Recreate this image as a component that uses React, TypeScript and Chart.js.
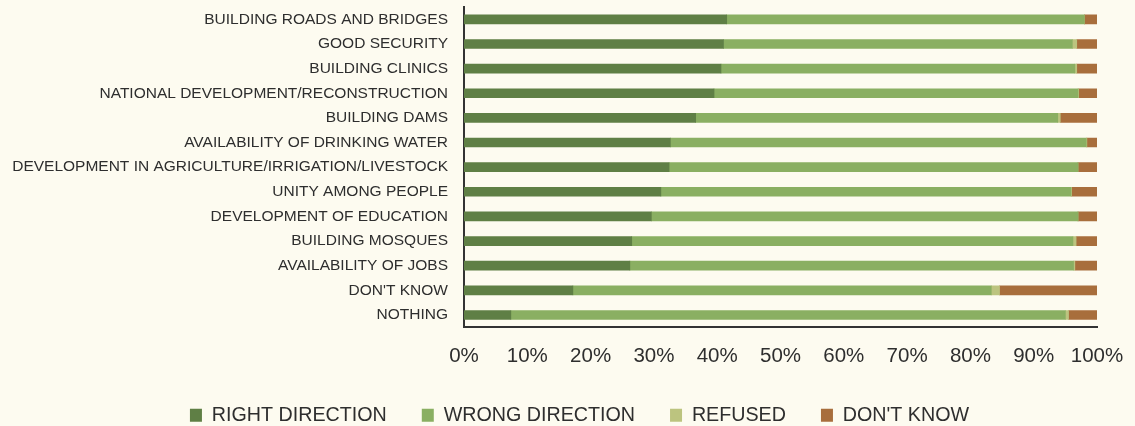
import React, { useEffect, useRef } from "react";
import { Chart, registerables } from "chart.js";

Chart.register(...registerables);

const categories = [
  "BUILDING ROADS AND BRIDGES",
  "GOOD SECURITY",
  "BUILDING CLINICS",
  "NATIONAL DEVELOPMENT/RECONSTRUCTION",
  "BUILDING DAMS",
  "AVAILABILITY OF DRINKING WATER",
  "DEVELOPMENT IN AGRICULTURE/IRRIGATION/LIVESTOCK",
  "UNITY AMONG PEOPLE",
  "DEVELOPMENT OF EDUCATION",
  "BUILDING MOSQUES",
  "AVAILABILITY OF JOBS",
  "DON'T KNOW",
  "NOTHING",
];

const rightDirection = [41.5, 41.0, 40.6, 39.5, 36.6, 32.6, 32.4, 31.1, 29.6, 26.5, 26.2, 17.2, 7.4];
const wrongDirection = [56.5, 55.1, 55.9, 57.5, 57.2, 65.7, 64.6, 64.8, 67.4, 69.7, 70.1, 66.1, 87.6];
const refused = [0, 0.7, 0.3, 0.1, 0.4, 0.1, 0, 0.1, 0, 0.5, 0.2, 1.3, 0.5];
const dontKnow = [2.0, 3.2, 3.2, 2.9, 5.8, 1.6, 3.0, 4.0, 3.0, 3.3, 3.5, 15.4, 4.5];

const seriesNames = ["RIGHT DIRECTION", "WRONG DIRECTION", "REFUSED", "DON'T KNOW"];
const seriesColors = ["#5f7f45", "#8aaf62", "#bcc47f", "#a86e3c"];

const xTicks = [0, 10, 20, 30, 40, 50, 60, 70, 80, 90, 100];

const BG = "#fdfbf0";
const TEXT = "#2e2e2e";
const FONT = "'Liberation Sans', Arial, Helvetica, sans-serif";

// Lets the long category labels extend left of the layout padding (no clipping).
const unclipYLabels = {
  id: "unclipYLabels",
  afterLayout(chart: any) {
    if (chart.scales && chart.scales.y) chart.scales.y.left = 0;
  },
};

export default function App() {
  const canvasRef = useRef<HTMLCanvasElement | null>(null);

  useEffect(() => {
    document.body.style.margin = "0";
    document.body.style.background = BG;
    const canvas = canvasRef.current;
    if (!canvas) return;
    const values = [rightDirection, wrongDirection, refused, dontKnow];
    const chart = new Chart(canvas, {
      type: "bar",
      data: {
        labels: categories,
        datasets: seriesNames.map((name, i) => ({
          label: name,
          data: values[i],
          backgroundColor: seriesColors[i],
          borderWidth: 0,
          barThickness: 9,
        })),
      },
      options: {
        indexAxis: "y",
        responsive: false,
        animation: false,
        layout: { padding: { top: 7, left: 62, right: 38, bottom: -9 } },
        scales: {
          x: {
            stacked: true,
            min: 0,
            max: 100,
            afterBuildTicks: (scale: any) => {
              scale.ticks = xTicks.map((v) => ({ value: v }));
            },
            afterFit: (scale: any) => {
              scale.height = 43;
              scale.paddingLeft = 0;
              scale.paddingRight = 0;
            },
            grid: { display: false, drawTicks: false },
            border: { display: true, color: "#333333", width: 2 },
            ticks: {
              padding: 17,
              color: TEXT,
              font: { family: FONT, size: 20.5 },
              callback: (v: any) => v + "%",
              maxRotation: 0,
            },
          },
          y: {
            stacked: true,
            grid: { display: false, drawTicks: false },
            border: { display: true, color: "#333333", width: 2 },
            afterFit: (scale: any) => {
              scale.width = 402;
              scale.paddingTop = 0;
              scale.paddingBottom = 0;
            },
            ticks: {
              autoSkip: false,
              padding: 16,
              color: TEXT,
              font: { family: FONT, size: 15.5 },
            },
          },
        },
        plugins: {
          legend: {
            position: "bottom",
            labels: {
              boxWidth: 12,
              boxHeight: 13,
              padding: 35,
              color: TEXT,
              font: { family: FONT, size: 19.7 },
            },
          },
          tooltip: { enabled: false },
        },
      },
      plugins: [unclipYLabels],
    });
    return () => chart.destroy();
  }, []);

  return (
    <div style={{ position: "fixed", left: 0, top: 0, width: 1135, height: 426, background: BG }}>
      <canvas ref={canvasRef} width={1135} height={426} style={{ display: "block" }} />
    </div>
  );
}
